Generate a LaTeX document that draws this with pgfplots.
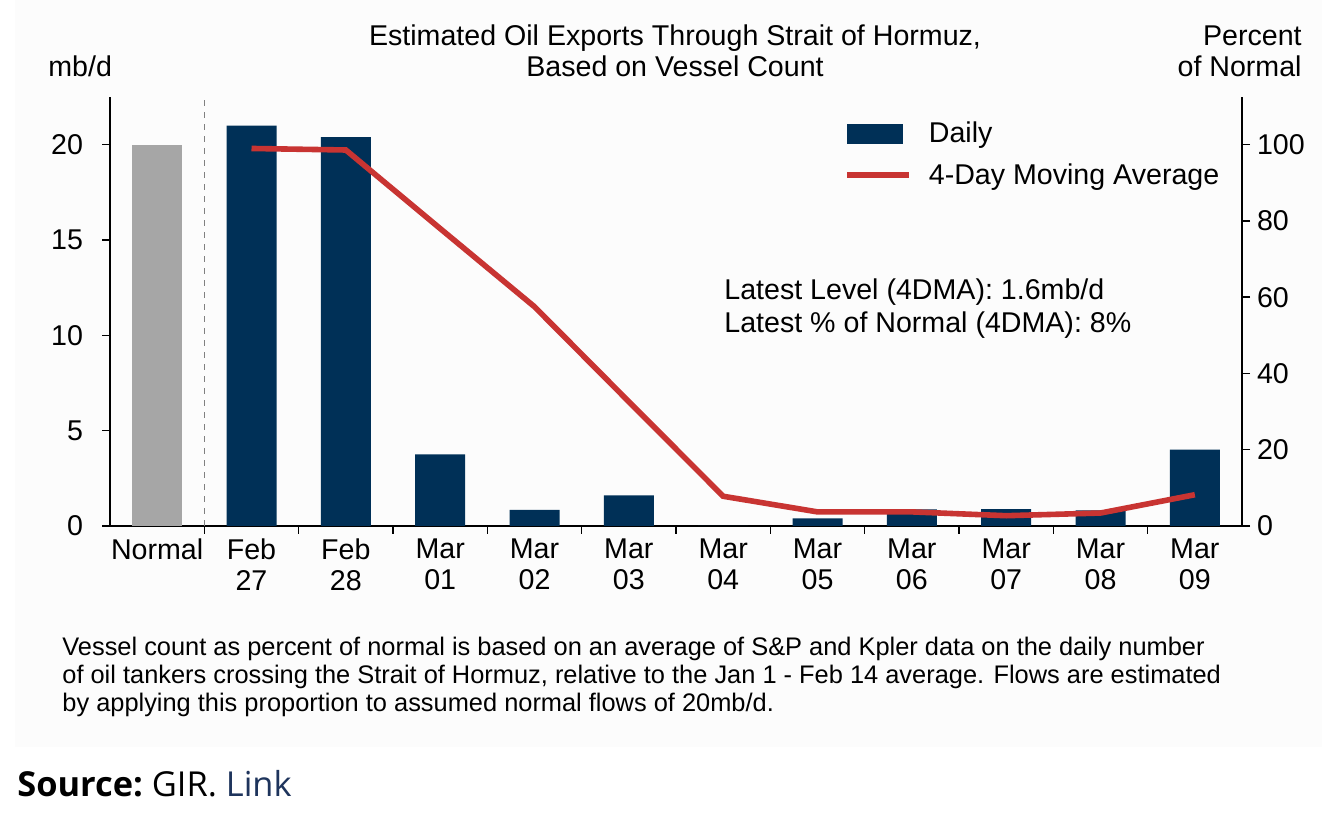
\documentclass[border=0pt]{standalone}
\usepackage{pgfplots}
\pgfplotsset{compat=1.18}
\usepackage{fontspec}
\setmainfont{Liberation Sans}
\newfontfamily\opensans{Open Sans}
\definecolor{navy}{RGB}{0,48,87}
\definecolor{hred}{RGB}{200,52,50}
\definecolor{bargray}{RGB}{166,166,166}
\definecolor{linkblue}{RGB}{30,52,92}
\definecolor{panel}{RGB}{252,252,252}

\begin{document}
\begin{tikzpicture}[font=\fontsize{14.3}{17}\selectfont]
\useasboundingbox (0,0) rectangle (661pt,407pt);
\fill[panel] (7.5pt,33.5pt) rectangle (661pt,407pt);

% left axis: bars in mb/d
\begin{axis}[
    at={(55pt,144pt)}, anchor=south west,
    scale only axis, width=566pt, height=214.5pt,
    xmin=-0.5, xmax=11.5, ymin=0, ymax=22.5,
    axis y line*=left, axis x line*=bottom,
    axis line style={line width=0.9pt, -},
    tick align=outside,
    major tick length=4pt, minor tick length=4pt,
    every tick/.style={black, line width=0.75pt},
    xtick={0,...,11},
    minor x tick num=1,
    major x tick style={draw=none},
    xticklabels={Normal, Feb\\27, Feb\\28, Mar\\01, Mar\\02, Mar\\03, Mar\\04, Mar\\05, Mar\\06, Mar\\07, Mar\\08, Mar\\09},
    xticklabel style={align=center, font=\fontsize{14.3}{15.5}\selectfont, anchor=north, yshift=1pt},
    ytick={0,5,...,20},
    yticklabel style={font=\fontsize{14.3}{17}\selectfont, xshift=-6pt},
    /pgf/number format/assume math mode=true,
    clip=false,
    legend style={at={(0.643,0.962)}, anchor=north west, draw=none, fill=none,
        font=\fontsize{14.3}{17}\selectfont, row sep=5pt,
        /tikz/every odd column/.append style={column sep=6.5pt}},
    legend cell align=left,
]
\addplot[ybar, bar width=0.53, bar shift=0pt, fill=bargray, draw=none, forget plot]
    coordinates {(0,20)};
\addplot[ybar, bar width=0.53, bar shift=0pt, fill=navy, draw=none,
    legend image code/.code={\fill[navy] (0pt,-5pt) rectangle (28pt,5pt);}]
    coordinates {(1,21.0) (2,20.4) (3,3.75) (4,0.85) (5,1.6) (6,0) (7,0.4) (8,0.87) (9,0.88) (10,0.82) (11,4.0)};
\addlegendentry{Daily}
\addlegendimage{legend image code/.code={\draw[hred, line width=2.8pt] (0pt,0pt) -- (31pt,0pt);}}
\addlegendentry{4-Day Moving Average}
\addplot[gray, dashed, line width=0.6pt, forget plot] coordinates {(0.5,0) (0.5,22.5)};
\end{axis}

% right axis: percent of normal
\begin{axis}[
    at={(55pt,144pt)}, anchor=south west,
    scale only axis, width=566pt, height=214.5pt,
    xmin=-0.5, xmax=11.5, ymin=0, ymax=112.5,
    axis y line*=right, axis x line=none,
    axis line style={line width=0.9pt, -},
    tick align=outside,
    major tick length=4pt,
    every tick/.style={black, line width=0.75pt},
    ytick={0,20,...,100},
    yticklabel style={font=\fontsize{14.3}{17}\selectfont},
    /pgf/number format/assume math mode=true,
]
\addplot[hred, line width=2.8pt] coordinates {
    (1,99.0) (2,98.6) (3,78.0) (4,57.5) (5,32.6) (6,7.8)
    (7,3.7) (8,3.7) (9,2.7) (10,3.4) (11,8.2)};
\end{axis}

% titles and notes
\node[anchor=base, inner sep=0] at (337.5pt,384pt) {Estimated Oil Exports Through Strait of Hormuz,};
\node[anchor=base, inner sep=0] at (337.5pt,368.5pt) {Based on Vessel Count};
\node[anchor=base west, inner sep=0] at (24pt,368.5pt) {mb/d};
\node[anchor=base east, inner sep=0] at (651pt,384pt) {Percent};
\node[anchor=base east, inner sep=0] at (651pt,368.5pt) {of Normal};
\node[anchor=base west, inner sep=0] at (362pt,257pt) {Latest Level (4DMA): 1.6mb/d};
\node[anchor=base west, inner sep=0] at (362pt,240.5pt) {Latest \% of Normal (4DMA): 8\%};
\begin{scope}[font=\fontsize{12.7}{14}\selectfont]
\node[anchor=base west, inner sep=0] at (31pt,79pt) {Vessel count as percent of normal is based on an average of S\&P and Kpler data on the daily number};
\node[anchor=base west, inner sep=0] at (31pt,65pt) {of oil tankers crossing the Strait of Hormuz, relative to the Jan 1 - Feb 14 average. Flows are estimated};
\node[anchor=base west, inner sep=0] at (31pt,51.5pt) {by applying this proportion to assumed normal flows of 20mb/d.};
\end{scope}
\node[anchor=base west, inner sep=0, font=\fontsize{17.2}{20}\opensans] at (8.5pt,9pt)
    {{\bfseries Source:}~GIR.~\textcolor{linkblue}{Link}};
\end{tikzpicture}
\end{document}
